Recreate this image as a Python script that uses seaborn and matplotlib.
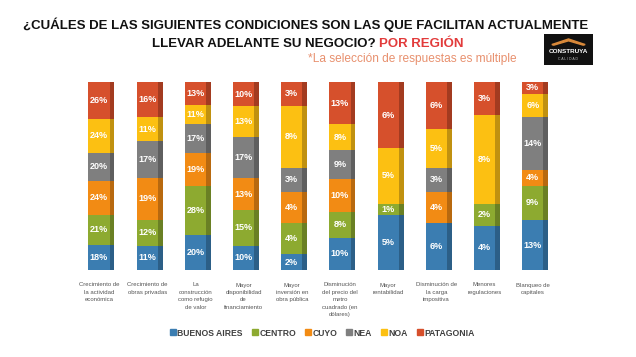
import numpy as np
import pandas as pd
import matplotlib
matplotlib.use("Agg")
import matplotlib.pyplot as plt
import seaborn as sns
from matplotlib.patches import Polygon
from matplotlib.lines import Line2D

categories = [
    "Crecimiento de\nla actividad\neconómica",
    "Crecimiento de\nobras privadas",
    "La\nconstrucción\ncomo refugio\nde valor",
    "Mayor\ndisponibilidad\nde\nfinanciamiento",
    "Mayor\ninversión en\nobra pública",
    "Disminución\ndel precio del\nmetro\ncuadrado (en\ndólares)",
    "Mayor\nrentabilidad",
    "Disminución de\nla carga\nimpositiva",
    "Menores\nregulaciones",
    "Blanqueo de\ncapitales",
]
regions = ["BUENOS AIRES", "CENTRO", "CUYO", "NEA", "NOA", "PATAGONIA"]
buenos_aires = [18, 11, 20, 10, 2, 10, 5, 6, 4, 13]
centro =       [21, 12, 28, 15, 4, 8, 1, 0, 2, 9]
cuyo =         [24, 19, 19, 13, 4, 10, 0, 4, 0, 4]
nea =          [20, 17, 17, 17, 3, 9, 0, 3, 0, 14]
noa =          [24, 11, 11, 13, 8, 8, 5, 5, 8, 6]
patagonia =    [26, 16, 13, 10, 3, 13, 6, 6, 3, 3]
colors = ["#3b7db1", "#8daa30", "#f28b14", "#7f7f7f", "#fcc012", "#d6502c"]
side_colors = ["#2c5f87", "#6a8024", "#b8690f", "#5f5f5f", "#c09110", "#a33b20"]

series = [buenos_aires, centro, cuyo, nea, noa, patagonia]
vals = np.array(series, dtype=float)
totals = vals.sum(axis=0)
shares = vals / totals
cum = np.cumsum(shares, axis=0)
bottoms = cum - shares

fam = ["Liberation Sans", "DejaVu Sans"]
plt.rcParams["font.family"] = fam

W, H = 636, 357
fig = plt.figure(figsize=(W / 100, H / 100), dpi=100)
fig.patch.set_facecolor("white")
ax = fig.add_axes([77.3 / W, 1 - 270 / H, 482 / W, 188 / H])

idx = np.arange(len(categories))
front_w = 0.44
side_w = 0.1
off = -0.05
for k in range(len(regions) - 1, -1, -1):
    df = pd.DataFrame({"x": idx + off, "y": cum[k]})
    sns.barplot(data=df, x="x", y="y", native_scale=True, color=colors[k],
                width=front_w, saturation=1, ax=ax, linewidth=0, errorbar=None)
    df2 = pd.DataFrame({"x": idx + off + front_w / 2 + side_w / 2, "y": cum[k]})
    sns.barplot(data=df2, x="x", y="y", native_scale=True, color=side_colors[k],
                width=side_w, saturation=1, ax=ax, linewidth=0, errorbar=None)

for k in range(len(regions)):
    for i in idx:
        v = vals[k, i]
        if v > 0:
            ax.text(i + off, bottoms[k, i] + shares[k, i] / 2, f"{int(v)}%",
                    ha="center", va="center", color="white", fontsize=6.5,
                    fontweight="bold")

ax.set_xlim(-0.5, 9.5)
ax.set_ylim(0, 1)
ax.set_xticks(idx + off)
ax.set_xticklabels(categories, fontsize=4.3, color="#555555", linespacing=1.6,
                   va="top")
ax.tick_params(axis="x", length=0, pad=9)
ax.set_yticks([])
ax.set_xlabel("")
ax.set_ylabel("")
for s in ax.spines.values():
    s.set_visible(False)

# Title
fig.canvas.draw()
r = fig.canvas.get_renderer()
ta = fig.text(306 / W, 1 - 25 / H,
              "¿CUÁLES DE LAS SIGUIENTES CONDICIONES SON LAS QUE FACILITAN ACTUALMENTE",
              ha="center", va="center", fontsize=11, fontweight="bold", color="#111111")
w = ta.get_window_extent(r).width
ta.set_fontsize(11 * 567 / w)
fs = ta.get_fontsize()
t1 = fig.text(152 / W, 1 - 44 / H, "LLEVAR ADELANTE SU NEGOCIO? ",
              ha="left", va="center", fontsize=fs, fontweight="bold", color="#111111")
bb = t1.get_window_extent(r)
fig.text(bb.x1 / W, 1 - 44 / H, "POR REGIÓN", ha="left", va="center", fontsize=fs,
         fontweight="bold", color="#e23b3b")
ts = fig.text(517 / W, 1 - 59 / H, "*La selección de respuestas es múltiple", ha="right",
              va="center", fontsize=7, color="#e8906e")
ws = ts.get_window_extent(r).width
ts.set_fontsize(7 * 209 / ws)

# Logo
logo = fig.add_axes([544 / W, 1 - 65 / H, 49 / W, 31 / H])
logo.set_facecolor("#111111")
logo.set_xlim(0, 1); logo.set_ylim(0, 1)
logo.set_xticks([]); logo.set_yticks([])
for s in logo.spines.values():
    s.set_visible(False)
logo.add_patch(Polygon([[0.16, 0.66], [0.5, 0.84], [0.84, 0.66], [0.8, 0.64], [0.5, 0.78], [0.2, 0.64]],
                       closed=True, color="#d9893a"))
logo.text(0.5, 0.43, "CONSTRUYA", ha="center", va="center", color="white", fontsize=4.6,
          fontweight="bold")
logo.text(0.5, 0.2, "C A L I D A D", ha="center", va="center", color="#bbbbbb", fontsize=2.5)

# Legend
handles = [Line2D([0], [0], marker="s", linestyle="", markersize=4, color=c) for c in colors]
fig.legend(handles, regions, loc="center", bbox_to_anchor=(322 / W, 1 - 333 / H), ncol=6,
           frameon=False, handletextpad=0.1, columnspacing=1.0, handlelength=0.8,
           prop={"weight": "bold", "size": 6.2})
for t in fig.legends[0].get_texts():
    t.set_color("#404040")

fig.savefig("out.png", dpi=100, facecolor="white")
